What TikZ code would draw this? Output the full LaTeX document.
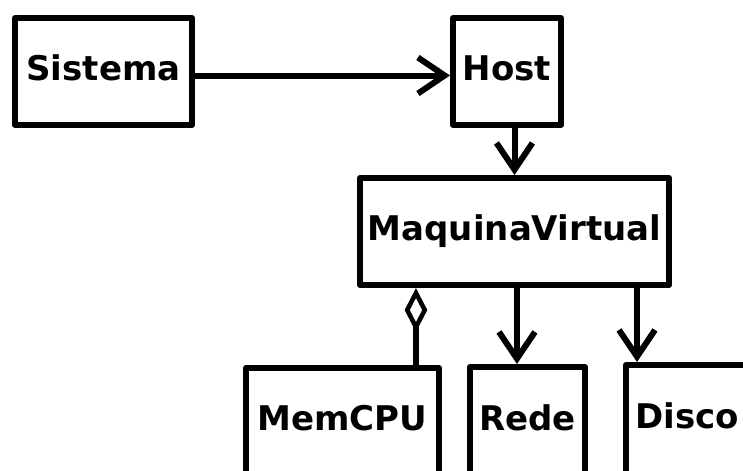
\documentclass[tikz,border=0pt]{standalone}
\usepackage{fontspec}
\setmainfont{DejaVu Sans}
\usetikzlibrary{arrows.meta}
\begin{document}
\begin{tikzpicture}[x=0.75pt,y=-0.75pt,
  box/.style={draw, line width=4.5pt, line join=round, rectangle, inner sep=0pt,
    font=\bfseries\fontsize{25.5pt}{30pt}\selectfont, text height=18.6pt, text depth=4.5pt},
  conn/.style={line width=4.5pt},
  arr/.style={conn, -{Straight Barb[length=20pt, width=27pt, line join=miter]}},
  agg/.style={conn, {Diamond[open, length=33pt, width=17pt, line width=3.4pt]}-}]
\clip (0,0) rectangle (743,471);
\fill[white] (0,0) rectangle (743,471);
\node[box, minimum width=132.75pt, minimum height=80.25pt] (sis) at (103.5,71.5) {Sistema};
\node[box, minimum width=81pt, minimum height=80.25pt] (host) at (507,71.5) {Host};
\node[box, minimum width=231.75pt, minimum height=80.25pt] (mv) at (514.5,231.5) {MaquinaVirtual};
\node[box, minimum width=144.75pt, minimum height=80.25pt] (mem) at (342.5,421.5) {MemCPU};
\node[box, minimum width=86.25pt, minimum height=81pt] (rede) at (527.5,421) {Rede};
\node[box, minimum width=92.25pt, minimum height=81.4pt] (disco) at (687.5,419.25) {Disco};
\draw[arr] ([yshift=-3pt]sis.east) -- ([yshift=-3pt]host.west);
\draw[arr] (host.south -| mv.north) -- (mv.north);
\draw[agg] ([xshift=55.1pt]mem.north |- mv.south) -- ([xshift=55.1pt]mem.north);
\draw[arr] ([xshift=-7.9pt]rede.north |- mv.south) -- ([xshift=-7.9pt]rede.north);
\draw[arr] ([xshift=10.5pt]disco.north west |- mv.south) -- ([xshift=10.5pt]disco.north west);
\end{tikzpicture}
\end{document}
